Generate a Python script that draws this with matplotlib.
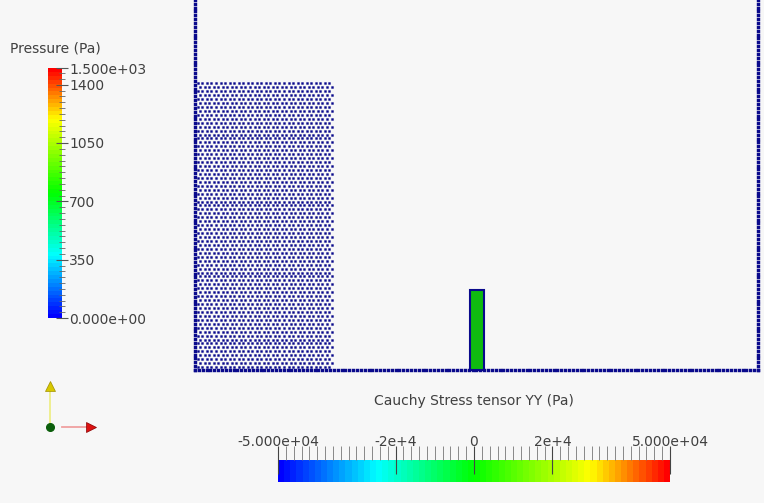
import numpy as np
import matplotlib.pyplot as plt
from matplotlib.colors import ListedColormap, Normalize, hsv_to_rgb
from matplotlib.cm import ScalarMappable
from matplotlib.patches import Rectangle

# geometria zbiornika i kolumny wody [m]
tank_width = 0.584
fluid_width = 0.143
fluid_height = 0.301
gate_x = 0.285
gate_width = 0.0145
gate_height = 0.083
dx_fluid = 0.0047
dx_wall = 0.0040

# skale kolorów
p_min, p_max = 0.0, 1500.0
p_ticks = [350, 700, 1050, 1400]
s_min, s_max = -5.0e4, 5.0e4
s_ticks = [-2e4, 0, 2e4]

BG = '#f7f7f7'
NAVY = '#0a0a8c'
TXT = '#404040'

# tęcza niebieski -> czerwony (interpolacja w HSV), 64 odcienie
t = np.linspace(0, 1, 64)
hue = np.interp(t, [0, 0.25, 0.5, 0.8, 1.0], [240, 180, 120, 60, 0]) / 360
rainbow = ListedColormap(hsv_to_rgb(np.stack([hue, np.ones(64), np.ones(64)], axis=1)))

fig = plt.figure(figsize=(7.64, 5.03), dpi=100, facecolor=BG)

# scena w metrach: 964 px na metr, lewa ściana w x=195 px, dno w y=370 px
scale = 964.0
ax = fig.add_axes([0, 0, 1, 1], facecolor=BG)
ax.set_xlim(-195 / scale, (764 - 195) / scale)
ax.set_ylim(-(503 - 370) / scale, 370 / scale)
ax.axis('off')

# cząstki płynu - siatka przesunięta co drugi rząd
fx, fy = [], []
ys = np.arange(0.003, fluid_height + 1e-4, dx_fluid * 0.87)
for i, y in enumerate(ys):
    off = 0.5 * dx_fluid if i % 2 else 0.0
    xs = np.arange(0.003 + off, fluid_width, dx_fluid)
    fx.extend(xs)
    fy.extend([y] * len(xs))
ax.scatter(fx, fy, s=3.0, marker='s', c=NAVY, linewidths=0, snap=False)

# cząstki ścian
top = 0.40
wy = np.arange(0, top, dx_wall)
wx = np.arange(0, tank_width + 1e-9, dx_wall)
for px, py in [(np.zeros_like(wy), wy), (np.full_like(wy, tank_width), wy),
               (wx, np.zeros_like(wx))]:
    ax.scatter(px, py, s=6.0, marker='s', c=NAVY, linewidths=0, snap=False)

# sprężysta przegroda
ax.add_patch(Rectangle((gate_x, 0), gate_width, gate_height,
                       facecolor='#10bb10', edgecolor=NAVY, lw=1.5, zorder=3))

# pasek ciśnienia (pionowy)
cax1 = fig.add_axes([48 / 764, 1 - 318 / 503, 14 / 764, 250 / 503])
cb1 = fig.colorbar(ScalarMappable(Normalize(p_min, p_max), rainbow), cax=cax1)
cb1.outline.set_visible(False)
cb1.set_ticks([p_min] + p_ticks + [p_max])
cb1.set_ticklabels(['0.000e+00'] + [str(v) for v in p_ticks] + ['1.500e+03'])
cb1.ax.set_yticks(np.arange(0, 1500, 35), minor=True)
cb1.ax.tick_params(which='major', direction='inout', length=8, width=0.8,
                   color='#555555', labelsize=10, labelcolor=TXT, pad=1)
cb1.ax.tick_params(which='minor', direction='inout', length=5, width=0.6,
                   color='#666666')
fig.text(10 / 764, 1 - 48 / 503, 'Pressure (Pa)', fontsize=10, color=TXT,
         ha='left', va='center')

# pasek naprężenia YY (poziomy)
cax2 = fig.add_axes([278 / 764, 1 - 482 / 503, 392 / 764, 22 / 503])
cb2 = fig.colorbar(ScalarMappable(Normalize(s_min, s_max), rainbow), cax=cax2,
                   orientation='horizontal')
cb2.outline.set_visible(False)
cax2.xaxis.set_ticks_position('top')
cb2.set_ticks([s_min] + s_ticks + [s_max])
cb2.set_ticklabels(['-5.000e+04', '-2e+4', '0', '2e+4', '5.000e+04'])
cax2.set_xticks(np.arange(s_min, s_max + 1, 2000), minor=True)
cax2.tick_params(which='major', direction='inout', length=20, width=0.8,
                 color='#444444', labelsize=10, labelcolor=TXT, pad=-2)
cax2.tick_params(which='minor', direction='out', length=10, width=0.6,
                 color='#777777')
for tk in (cax2.xaxis.get_major_ticks()[0], cax2.xaxis.get_major_ticks()[-1]):
    tk.tick2line.set_color('#888888')
fig.text(474 / 764, 1 - 401 / 503, 'Cauchy Stress tensor YY (Pa)', fontsize=10,
         color=TXT, ha='center', va='center')

# triada osi
ov = fig.add_axes([0, 0, 1, 1], facecolor='none')
ov.set_xlim(0, 764)
ov.set_ylim(503, 0)
ov.axis('off')
ov.plot([50, 50], [427, 388], color='#eeee88', lw=1.3)
ov.plot([50], [386], marker='^', ms=6.5, color='#d8c800', mec='#a09000', mew=0.5)
ov.plot([62, 88], [427, 427], color='#f0a0a0', lw=1.3)
ov.plot([91], [427], marker='>', ms=6.5, color='#dd1111', mec='#880000', mew=0.5)
ov.plot([50], [427], marker='o', ms=5.5, color='#0b5e0b')

fig.savefig('out.png', dpi=100, facecolor=BG)
